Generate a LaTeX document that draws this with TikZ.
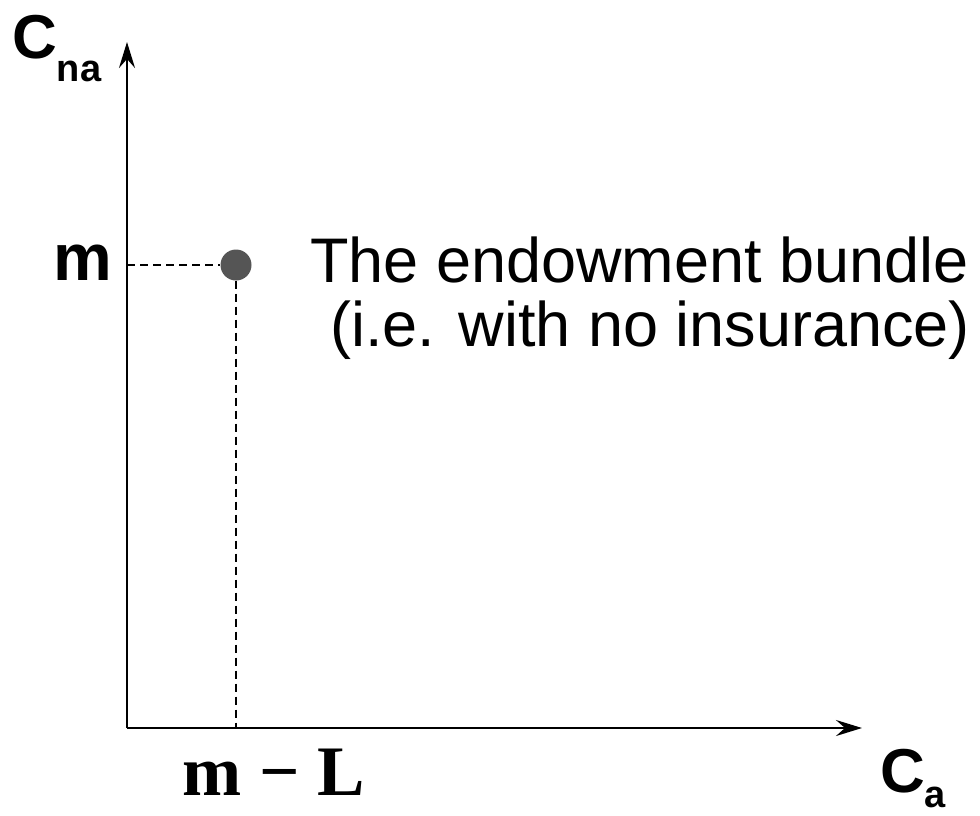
\documentclass[tikz,border=0pt]{standalone}
\usepackage{fontspec}
\setmainfont{Liberation Sans}
\newfontfamily\timesfont{Liberation Serif}
\usetikzlibrary{arrows.meta, positioning}
\definecolor{dotGray}{RGB}{85,85,85}

\begin{document}
\begin{tikzpicture}[x=1pt, y=-1pt,
axis/.style={line width=2.5pt, -{Stealth[length=26pt, width=16pt, inset=9pt]}},
guide/.style={line width=1.8pt, dash pattern=on 8pt off 5pt},
dot/.style={circle, fill=dotGray, inner sep=0pt, minimum size=31pt},
lbl/.style={inner sep=0pt, font=\fontsize{62}{66}\selectfont\bfseries},
note/.style={inner sep=0pt, font=\fontsize{63}{66}\selectfont, anchor=base west}]
\useasboundingbox (0,0) rectangle (980,815);
\coordinate (origin) at (127,728);
\coordinate (ytip) at (127,42);
\coordinate (xtip) at (862,728);
\draw[axis] (origin) -- (ytip);
\draw[axis] (origin) -- (xtip);
\node[dot] (endow) at (236,265) {};
\draw[guide] (origin |- endow) -- (endow);
\draw[guide] (endow) -- (endow |- origin);
% axis labels
\node[lbl, anchor=base west] (cna) at (12,58)
    {C\raisebox{-23pt}{\fontsize{38}{38}\selectfont na}};
\node[lbl, anchor=base west] (ca) at (880,792)
    {C\raisebox{-15pt}{\fontsize{38}{38}\selectfont a}};
\node[lbl, font=\fontsize{66}{70}\selectfont\bfseries, anchor=base east] (mlab) at (112,280) {m};
\node[inner sep=0pt, anchor=base, font=\fontsize{71}{76}\selectfont\timesfont\bfseries]
    (mlL) at (274,795) {m \symbol{"2212} L};
% endowment text
\node[note] (line1) at (310,282) {The endowment bundle};
\node[note] (line2) at (330,346) {(i.e. with no insurance)};
\end{tikzpicture}
\end{document}
